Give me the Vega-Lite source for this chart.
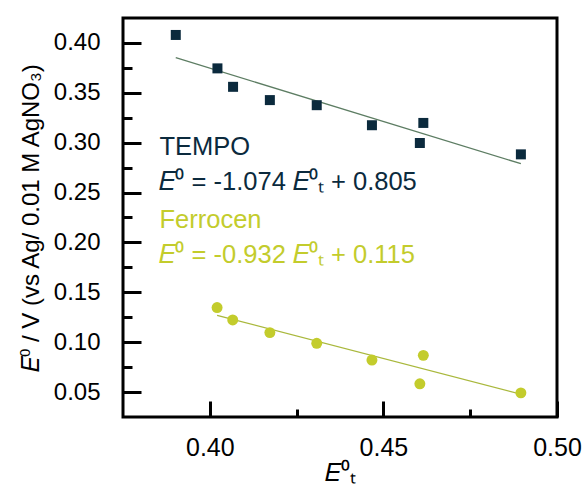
{
  "$schema": "https://vega.github.io/schema/vega-lite/v6.json",
  "width": 434,
  "height": 399,
  "autosize": {"type": "none"},
  "padding": {"left": 123, "top": 18, "right": 26, "bottom": 74},
  "config": {
    "view": {"stroke": "#000000", "strokeWidth": 3},
    "font": "Liberation Sans",
    "axis": {"grid": false, "domain": false, "ticks": true, "labelFont": "Liberation Sans", "titleFont": "Liberation Sans", "labelColor": "#000000", "titleColor": "#000000", "titleFontWeight": "normal"}
  },
  "datasets": {
    "points": [
      {"series": "TEMPO", "x": 0.3902, "y": 0.408},
      {"series": "TEMPO", "x": 0.4022, "y": 0.3745},
      {"series": "TEMPO", "x": 0.4067, "y": 0.356},
      {"series": "TEMPO", "x": 0.4173, "y": 0.3427},
      {"series": "TEMPO", "x": 0.4308, "y": 0.3376},
      {"series": "TEMPO", "x": 0.4467, "y": 0.3175},
      {"series": "TEMPO", "x": 0.4605, "y": 0.2997},
      {"series": "TEMPO", "x": 0.4615, "y": 0.3198},
      {"series": "TEMPO", "x": 0.4896, "y": 0.2883},
      {"series": "Ferrocen", "x": 0.4021, "y": 0.1347},
      {"series": "Ferrocen", "x": 0.4066, "y": 0.1223},
      {"series": "Ferrocen", "x": 0.4173, "y": 0.1096},
      {"series": "Ferrocen", "x": 0.4308, "y": 0.0989},
      {"series": "Ferrocen", "x": 0.4467, "y": 0.0821},
      {"series": "Ferrocen", "x": 0.4605, "y": 0.0583},
      {"series": "Ferrocen", "x": 0.4615, "y": 0.0868},
      {"series": "Ferrocen", "x": 0.4896, "y": 0.0492}
    ],
    "fits": [
      {"series": "TEMPO", "x": 0.3902, "y": 0.3852},
      {"series": "TEMPO", "x": 0.4896, "y": 0.2789},
      {"series": "Ferrocen", "x": 0.4021, "y": 0.127},
      {"series": "Ferrocen", "x": 0.4898, "y": 0.0476}
    ],
    "labels": [
      {"series": "TEMPO", "text": "TEMPO", "x": 0.3855, "y": 0.2873},
      {"series": "TEMPO", "text": "𝐸⁰ = -1.074 𝐸⁰ₜ + 0.805", "x": 0.3855, "y": 0.2521},
      {"series": "Ferrocen", "text": "Ferrocen", "x": 0.3855, "y": 0.2149},
      {"series": "Ferrocen", "text": "𝐸⁰ = -0.932 𝐸⁰ₜ + 0.115", "x": 0.3855, "y": 0.1797}
    ]
  },
  "encoding": {
    "x": {"field": "x", "type": "quantitative", "scale": {"domain": [0.375, 0.5], "nice": false, "zero": false},
      "axis": {"title": "𝐸⁰ₜ", "values": [0.4, 0.425, 0.45, 0.475, 0.5], "format": ".2f",
        "labelExpr": "abs(datum.value*20 - round(datum.value*20)) < 0.01 ? datum.label : ''",
        "ticks": true, "tickColor": "black", "tickWidth": 3,
        "tickSize": {"condition": {"test": "abs(datum.value*20 - round(datum.value*20)) < 0.01", "value": -16}, "value": -8},
        "labelFontSize": 25, "titleFontSize": 25,
        "labelPadding": 34, "titlePadding": 0, "labelFlush": false}},
    "y": {"field": "y", "type": "quantitative", "scale": {"domain": [0.025, 0.425], "nice": false, "zero": false},
      "axis": {"title": "𝐸⁰ / V (vs Ag/ 0.01 M AgNO₃)", "values": [0.05, 0.075, 0.1, 0.125, 0.15, 0.175, 0.2, 0.225, 0.25, 0.275, 0.3, 0.325, 0.35, 0.375, 0.4], "format": ".2f",
        "labelExpr": "abs(datum.value*20 - round(datum.value*20)) < 0.01 ? datum.label : ''",
        "ticks": true, "tickColor": "black", "tickWidth": 3,
        "tickSize": {"condition": {"test": "abs(datum.value*20 - round(datum.value*20)) < 0.01", "value": -18}, "value": -9},
        "labelFontSize": 24, "titleFontSize": 24,
        "labelPadding": 41, "titlePadding": 10, "labelFlush": false}}
  },
  "layer": [
    {
      "data": {"name": "fits"},
      "mark": {"type": "line", "strokeWidth": 1.3},
      "encoding": {
        "detail": {"field": "series"},
        "color": {"field": "series", "type": "nominal", "scale": {"domain": ["TEMPO", "Ferrocen"], "range": ["#5d7d63", "#a9b83c"]}, "legend": null}
      }
    },
    {
      "data": {"name": "points"},
      "transform": [{"filter": "datum.series == 'TEMPO'"}],
      "mark": {"type": "square", "size": 100, "opacity": 1, "filled": true, "color": "#0b2a3d"}
    },
    {
      "data": {"name": "points"},
      "transform": [{"filter": "datum.series == 'Ferrocen'"}],
      "mark": {"type": "circle", "size": 120, "opacity": 1, "color": "#c3cc2c"}
    },
    {
      "data": {"name": "labels"},
      "mark": {"type": "text", "align": "left", "baseline": "alphabetic", "fontSize": 25.5, "font": "Liberation Sans"},
      "encoding": {
        "text": {"field": "text"},
        "color": {"field": "series", "type": "nominal", "scale": {"domain": ["TEMPO", "Ferrocen"], "range": ["#0b2a3d", "#c3cc2c"]}, "legend": null}
      }
    }
  ],
  "resolve": {"scale": {"color": "independent"}}
}
